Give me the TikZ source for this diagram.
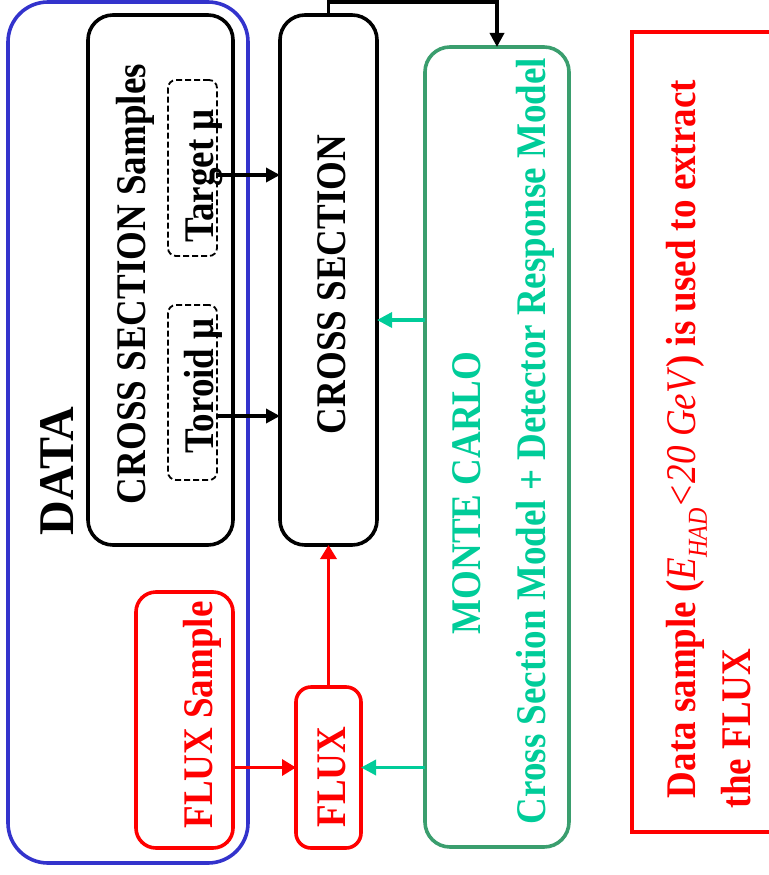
\documentclass[tikz,border=0pt]{standalone}
\usepackage{fontspec}
\setmainfont{Liberation Serif}
\usetikzlibrary{arrows.meta}
\definecolor{dblue}{HTML}{3333CC}
\definecolor{mred}{HTML}{FF0000}
\definecolor{mcteal}{HTML}{00CC99}
\definecolor{mcgreen}{HTML}{3A9E6E}
\begin{document}
\begin{tikzpicture}[x=1pt,y=-1pt,
  box/.style={draw, line width=3.6pt, rounded corners=#1, inner sep=0pt, outer sep=0pt},
  box/.default=25pt,
  dbox/.style={draw, line width=1.8pt, dash pattern=on 6pt off 3pt, rounded corners=8pt, inner sep=0pt, outer sep=0pt},
  vt/.style={rotate=90, yscale=1.14, inner sep=0pt, outer sep=0pt, anchor=base, font=\fontsize{37}{44}\selectfont\bfseries},
  arr/.style={line width=3.4pt, -{Triangle[length=14pt,width=14pt]}},
  rarr/.style={arr, draw=mred, -{Triangle[length=14pt,width=16pt]}},
  garr/.style={arr, draw=mcteal, -{Triangle[length=15pt,width=15pt]}}]
\useasboundingbox (0,0) rectangle (768,875);
% boxes
\node[box=40pt, draw=dblue, minimum width=240pt, minimum height=861pt] (data) at (128,432.5) {};
\node[box, minimum width=145pt, minimum height=530pt] (samp) at (160.5,280) {};
\node[dbox, minimum width=49pt, minimum height=176pt] (tgt) at (192.5,168) {};
\node[dbox, minimum width=49pt, minimum height=175pt] (tor) at (192.5,392.5) {};
\node[box, minimum width=97pt, minimum height=530pt] (cs) at (328.5,280) {};
\node[box, draw=mcgreen, minimum width=144pt, minimum height=800pt] (mc) at (497,447) {};
\node[box=20pt, draw=mred, minimum width=97pt, minimum height=256pt] (fs) at (184.5,720) {};
\node[box=15pt, draw=mred, minimum width=65pt, minimum height=161pt] (flux) at (328.5,767.5) {};
\node[draw=mred, line width=4.5pt, inner sep=0pt, outer sep=0pt, minimum width=200pt, minimum height=800pt, anchor=north west] (note) at (632,32) {};
% texts
\node[vt, yscale=0.912, font=\fontsize{48}{56}\selectfont\bfseries] (tdata) at (73,471) {DATA};
\node[vt] (tsamp) at (145,284) {CROSS SECTION Samples};
\node[vt] (ttgt) at (213,176) {Target μ};
\node[vt] (ttor) at (213,386) {Toroid μ};
\node[vt] (tcs) at (345,284.5) {CROSS SECTION};
\node[vt, text=mred] (tfs) at (212,715) {FLUX Sample};
\node[vt, text=mred] (tflux) at (345,777) {FLUX};
\node[vt, text=mcteal] (tmc) at (480,493) {MONTE CARLO};
\node[vt, text=mcteal] (tmodel) at (545,441) {Cross Section Model + Detector Response Model};
\node[vt, text=mred, anchor=base west] (tnote1) at (695,798) {Data sample (\textit{\mdseries E}\raisebox{-0.28em}{\fontsize{24}{24}\selectfont\mdseries\itshape HAD}\textit{\mdseries <20 GeV}) is used to extract};
\node[vt, text=mred, anchor=base west] (tnote2) at (750,808) {the FLUX};
% connectors
\coordinate (topc) at (400,2);
\draw[arr] ([yshift=-7pt]tgt.east) -- ([yshift=-7pt]tgt.east -| cs.west);
\draw[arr] ([yshift=-23.5pt]tor.east) -- ([yshift=-23.5pt]tor.east -| cs.west);
\draw[arr] (cs.north) |- (topc) -| (mc.north);
\draw[garr] ([yshift=127pt]mc.west) -- ([yshift=127pt]mc.west -| cs.east);
\draw[garr] (mc.west |- flux.east) -- (flux.east);
\draw[rarr] (fs.east |- flux.west) -- (flux.west);
\draw[rarr] (flux.north) -- (cs.south);
\end{tikzpicture}
\end{document}
